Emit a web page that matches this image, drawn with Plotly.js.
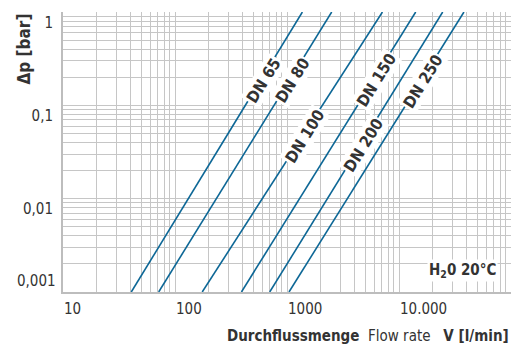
<!DOCTYPE html>
<html>
<head>
<meta charset="utf-8">
<script src="https://cdn.plot.ly/plotly-3.0.1.min.js"></script>
<style>html,body{margin:0;padding:0;background:#fff;}#chart{width:512px;height:349px;}</style>
</head>
<body>
<div id="chart"></div>
<script>
// ---- data ----
const seriesNames = ['DN 65', 'DN 80', 'DN 100', 'DN 150', 'DN 200', 'DN 250'];
const dpEnds = [0.001, 1];                                   // bar
const flowAtLow = [40.7, 71.5, 175, 392, 701, 1042];         // l/min at 0.001 bar
const flowAtHigh = [1372, 2506, 7115, 14090, 24550, 38000];  // l/min at 1 bar
const labelDp = [0.185, 0.185, 0.0458, 0.185, 0.0373, 0.178]; // where each name sits

const xDecades = [10, 100, 1000, 10000, 100000];
const xTickText = ['10', '100', '1000', '10.000', ''];
const yDecades = [0.001, 0.01, 0.1, 1];
const yTickText = ['', '0,01', '0,1', '1'];
const yBottomLabel = '0,001';

// ---- styling ----
const FONT = "'DejaVu Sans Condensed', 'Liberation Sans Narrow', 'Liberation Sans', sans-serif";
const LINE = '#0d6796';
const GRID = '#c6c6c6';
const TXT = '#333333';
const FS = 15;

function fullTicks(decades, texts) {
  const vals = [], txt = [];
  decades.forEach((d, i) => {
    vals.push(d); txt.push(texts[i]);
    if (i < decades.length - 1) {
      for (let m = 2; m <= 9; m++) { vals.push(d * m); txt.push(''); }
    }
  });
  return {vals, txt};
}
const xt = fullTicks(xDecades, xTickText);
const yt = fullTicks(yDecades, yTickText);

const traces = seriesNames.map((n, i) => ({
  type: 'scatter', mode: 'lines', name: n,
  x: [flowAtLow[i], flowAtHigh[i]], y: dpEnds,
  line: {color: LINE, width: 1.6},
  hoverinfo: 'skip', showlegend: false
}));

const L0 = Math.log10(dpEnds[0]), L1 = Math.log10(dpEnds[1]);
const annotations = seriesNames.map((n, i) => {
  const ly = Math.log10(labelDp[i]);
  const f = (ly - L0) / (L1 - L0);
  const lx = Math.log10(flowAtLow[i]) + f * (Math.log10(flowAtHigh[i]) - Math.log10(flowAtLow[i]));
  return {
    xref: 'x', yref: 'y', x: lx, y: ly, text: '<b>' + n + '</b>', showarrow: false,
    textangle: -58, bgcolor: '#ffffff', borderpad: 1, xshift: 3,
    font: {family: FONT, size: 16, color: TXT}
  };
});

annotations.push({
  xref: 'paper', yref: 'y', x: 0, y: L0, xanchor: 'right', yanchor: 'bottom', xshift: -5,
  text: yBottomLabel, showarrow: false, font: {family: FONT, size: FS, color: TXT}
});
annotations.push({
  xref: 'paper', yref: 'paper', x: 0.972, y: 0.078, xanchor: 'right', yanchor: 'middle',
  text: '<b>H<sub>2</sub>0 20°C</b>', showarrow: false, bgcolor: '#ffffff',
  font: {family: FONT, size: FS, color: TXT}
});
annotations.push({
  xref: 'paper', yref: 'paper', x: 1, y: 0, xanchor: 'right', yanchor: 'middle', yshift: -44,
  text: '<b>Durchflussmenge</b>&nbsp; Flow rate &nbsp;&nbsp;<b>V [l/min]</b>', showarrow: false,
  font: {family: FONT, size: FS, color: TXT}
});
annotations.push({
  xref: 'paper', yref: 'paper', x: 0, y: 1, xanchor: 'center', yanchor: 'top', xshift: -40, yshift: 0,
  text: '<b>Δp [bar]</b>', textangle: -90, showarrow: false,
  font: {family: FONT, size: 17, color: TXT}
});

const layout = {
  width: 512, height: 349,
  margin: {l: 63, r: 1, t: 12, b: 57, pad: 0},
  paper_bgcolor: '#ffffff', plot_bgcolor: '#ffffff',
  xaxis: {
    type: 'log', range: [1, 5], tickmode: 'array', tickvals: xt.vals, ticktext: xt.txt,
    showgrid: true, gridcolor: GRID, gridwidth: 1, zeroline: false,
    showline: true, linecolor: '#bdbdbd', linewidth: 2, ticks: '',
    ticklabelposition: 'outside right', ticklabelstandoff: 2,
    tickfont: {family: FONT, size: FS, color: TXT}, fixedrange: true
  },
  yaxis: {
    type: 'log', range: [-3, 0], tickmode: 'array', tickvals: yt.vals, ticktext: yt.txt,
    showgrid: true, gridcolor: GRID, gridwidth: 1, zeroline: false,
    showline: true, linecolor: '#bdbdbd', linewidth: 2, ticks: '',
    ticklabelposition: 'outside bottom', ticklabelstandoff: 5,
    tickfont: {family: FONT, size: FS, color: TXT}, fixedrange: true
  },
  annotations: annotations,
  showlegend: false
};

Plotly.newPlot('chart', traces, layout, {staticPlot: true, displayModeBar: false});
</script>
</body>
</html>
